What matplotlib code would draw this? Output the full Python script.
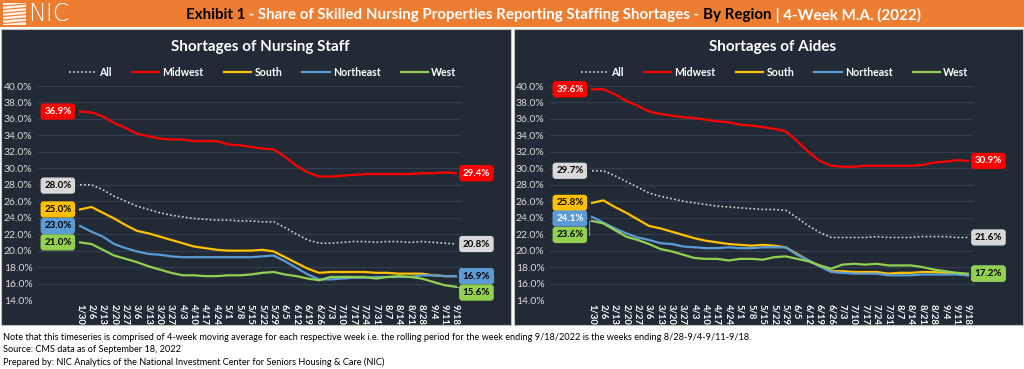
import matplotlib.pyplot as plt
from matplotlib.patches import Rectangle
from matplotlib.lines import Line2D

plt.rcParams['font.family'] = ['Lato', 'DejaVu Sans']

weeks = ["1/30", "2/6", "2/13", "2/20", "2/27", "3/6", "3/13", "3/20", "3/27", "4/3",
         "4/10", "4/17", "4/24", "5/1", "5/8", "5/15", "5/22", "5/29", "6/5", "6/12",
         "6/19", "6/26", "7/3", "7/10", "7/17", "7/24", "7/31", "8/7", "8/14", "8/21",
         "8/28", "9/4", "9/11", "9/18"]

# shortages of nursing staff (%)
nurse_all = [28.0, 28.0, 27.4, 26.6, 26.0, 25.4, 25.0, 24.6, 24.3, 24.1, 23.9, 23.8,
             23.7, 23.7, 23.6, 23.6, 23.5, 23.5, 22.8, 22.0, 21.3, 20.9, 20.9, 21.0,
             21.1, 21.1, 21.0, 21.1, 21.1, 21.0, 21.1, 21.0, 20.9, 20.8]
nurse_midwest = [36.9, 36.8, 36.3, 35.5, 34.9, 34.2, 33.9, 33.6, 33.5, 33.5, 33.3, 33.3,
                 33.3, 32.9, 32.8, 32.6, 32.4, 32.3, 31.4, 30.3, 29.5, 29.0, 29.0, 29.1,
                 29.2, 29.3, 29.3, 29.3, 29.3, 29.3, 29.4, 29.4, 29.5, 29.4]
nurse_south = [25.0, 25.3, 24.6, 23.9, 23.1, 22.4, 22.1, 21.7, 21.3, 20.9, 20.5, 20.3,
               20.1, 20.0, 20.0, 20.0, 20.1, 19.9, 19.2, 18.5, 17.8, 17.3, 17.4, 17.4,
               17.4, 17.4, 17.3, 17.3, 17.2, 17.2, 17.2, 17.0, 16.9, 16.9]
nurse_northeast = [23.0, 22.3, 21.7, 20.8, 20.3, 19.9, 19.6, 19.5, 19.3, 19.2, 19.2, 19.2,
                   19.2, 19.2, 19.2, 19.2, 19.3, 19.4, 18.7, 17.9, 17.1, 16.5, 16.5, 16.6,
                   16.7, 16.7, 16.8, 16.8, 16.8, 16.8, 17.0, 17.0, 16.9, 16.9]
nurse_west = [21.0, 20.8, 20.1, 19.4, 19.0, 18.6, 18.1, 17.7, 17.3, 17.0, 17.0, 16.9,
              16.9, 17.0, 17.0, 17.1, 17.3, 17.4, 17.1, 16.9, 16.6, 16.4, 16.8, 16.8,
              16.8, 16.8, 16.6, 16.8, 16.9, 16.8, 16.6, 16.2, 15.8, 15.6]

# shortages of aides (%)
aide_all = [29.7, 29.7, 29.1, 28.4, 27.7, 27.0, 26.6, 26.3, 26.0, 25.8, 25.6, 25.4,
            25.3, 25.2, 25.1, 25.0, 25.0, 24.9, 24.0, 23.0, 22.2, 21.6, 21.6, 21.6,
            21.6, 21.7, 21.6, 21.6, 21.6, 21.7, 21.7, 21.7, 21.6, 21.6]
aide_midwest = [39.6, 39.6, 39.0, 38.2, 37.6, 36.9, 36.6, 36.4, 36.2, 36.1, 35.9, 35.7,
                35.6, 35.3, 35.2, 35.0, 34.8, 34.5, 33.3, 32.0, 30.9, 30.3, 30.2, 30.2,
                30.3, 30.3, 30.3, 30.3, 30.3, 30.4, 30.7, 30.8, 31.0, 30.9]
aide_south = [25.8, 26.1, 25.3, 24.6, 23.8, 23.0, 22.7, 22.3, 21.9, 21.5, 21.2, 21.0,
              20.8, 20.7, 20.6, 20.7, 20.6, 20.4, 19.6, 18.8, 18.1, 17.5, 17.5, 17.4,
              17.4, 17.4, 17.2, 17.3, 17.3, 17.4, 17.4, 17.3, 17.2, 17.0]
aide_northeast = [24.1, 23.4, 22.7, 22.1, 21.6, 21.3, 20.9, 20.8, 20.5, 20.4, 20.3, 20.3,
                  20.4, 20.3, 20.3, 20.4, 20.4, 20.4, 19.5, 18.8, 18.1, 17.4, 17.3, 17.2,
                  17.2, 17.2, 17.0, 17.0, 17.0, 17.1, 17.1, 17.1, 17.1, 17.0]
aide_west = [23.6, 23.3, 22.5, 21.7, 21.3, 20.8, 20.2, 19.9, 19.5, 19.1, 19.0, 19.0,
             18.8, 19.0, 19.0, 18.9, 19.2, 19.3, 19.0, 18.7, 18.2, 17.8, 18.3, 18.4,
             18.3, 18.4, 18.2, 18.2, 18.2, 18.0, 17.7, 17.5, 17.3, 17.2]

regions = ["All", "Midwest", "South", "Northeast", "West"]
colors = {"All": "#D9D9D9", "Midwest": "#FF0000", "South": "#FFC000",
          "Northeast": "#5B9BD5", "West": "#92D050"}
text_colors = {"All": "black", "Midwest": "white", "South": "black",
               "Northeast": "black", "West": "black"}

BG = "#222A35"
W, H = 1024, 369

fig = plt.figure(figsize=(W / 100, H / 100), dpi=100, facecolor="white")


def px_rect(x0, y0, x1, y1, **kw):
    fig.patches.append(Rectangle((x0 / W, 1 - y1 / H), (x1 - x0) / W, (y1 - y0) / H,
                                 transform=fig.transFigure, zorder=-5, **kw))


# header bar + logo
px_rect(0, 0, W, 27, facecolor="#ED7D31", edgecolor="none")
px_rect(3, 3, 26, 25, facecolor="white", edgecolor="none", alpha=0.9)
for k in range(6):
    fig.lines.append(Line2D([3 / W, 26 / W], [1 - (6 + k * 3.5) / H, 1 - (4 + k * 3.5) / H],
                            transform=fig.transFigure, color="#ED7D31", lw=0.8))
fig.text(28 / W, 1 - 14 / H, "NIC", color="white", fontsize=17, fontweight="light",
         va="center", ha="left", fontfamily=["DejaVu Sans"])

title_parts = [("Exhibit 1", "black"),
               (" - Share of Skilled Nursing Properties Reporting Staffing Shortages - ", "white"),
               ("By Region", "black"), (" | 4-Week M.A. (2022)", "white")]
renderer = fig.canvas.get_renderer()
x_cursor = 186
for txt, col in title_parts:
    t = fig.text(x_cursor / W, 1 - 15 / H, txt, color=col, fontsize=10.9, fontweight="bold",
                 va="center", ha="left")
    x_cursor = t.get_window_extent(renderer).x1

# panels
px_rect(1, 29, 511, 325, facecolor=BG, edgecolor="#BFBFBF", lw=0.8)
px_rect(514, 29, 1023, 325, facecolor=BG, edgecolor="#BFBFBF", lw=0.8)


def draw_panel(x0, title, series, start_pos, end_pos, ne_start_color):
    ax = fig.add_axes([x0 / W, (H - 300) / H, 424 / W, 214 / H])
    ax.set_facecolor("none")
    xs = list(range(len(weeks)))
    for name in regions:
        if name == "All":
            ax.plot(xs, series[name], color=colors[name], lw=1.2, ls=(0, (1, 1.4)), label=name)
        else:
            ax.plot(xs, series[name], color=colors[name], lw=1.6, label=name)
    ax.set_xlim(-3.69, 33.53)
    ax.set_ylim(14, 40)
    ax.set_yticks(range(14, 41, 2))
    ax.set_yticklabels([f"{v:.1f}%" for v in range(14, 41, 2)], color="#D9D9D9", fontsize=7.5)
    ax.set_xticks(xs)
    ax.set_xticklabels(weeks, rotation=-90, rotation_mode="anchor", ha="left", va="center",
                       color="white", fontsize=6.8, fontweight="bold")
    ax.tick_params(length=0, pad=4)
    ax.tick_params(axis="x", pad=3)
    ax.grid(axis="y", color="#333F50", lw=0.8)
    ax.set_axisbelow(True)
    for s in ax.spines.values():
        s.set_visible(False)

    leg = ax.legend(loc="center", bbox_to_anchor=(0.53, 1.065), ncol=5, frameon=False,
                    fontsize=7.6, handlelength=2.6, columnspacing=1.9, handletextpad=0.3,
                    borderaxespad=0)
    for txt in leg.get_texts():
        txt.set_color("white")
        txt.set_fontweight("bold")

    ax.text(0.525, 1.18, title, transform=ax.transAxes, ha="center", va="center",
            color="white", fontsize=11, fontweight="bold")

    for name in regions:
        vals = series[name]
        for xi, (lx, ly), v in ((0, start_pos[name], vals[0]), (33, end_pos[name], vals[-1])):
            tc = text_colors[name]
            if name == "Northeast" and xi == 0:
                tc = ne_start_color
            ax.text(lx, ly, f"{v:.1f}%", ha="center", va="center", fontsize=7,
                    fontweight="bold", color=tc, clip_on=False,
                    bbox=dict(boxstyle="round,pad=0.3,rounding_size=0.25",
                              fc=colors[name], ec=colors[name]))
            if abs(ly - v) > 0.5:
                dx = 0.3 if xi else -0.3
                ax.plot([xi, xi + dx, xi + dx], [v, v, ly], color="#A6A6A6", lw=0.6,
                        clip_on=False)
    return ax


nurse = {"All": nurse_all, "Midwest": nurse_midwest, "South": nurse_south,
         "Northeast": nurse_northeast, "West": nurse_west}
aide = {"All": aide_all, "Midwest": aide_midwest, "South": aide_south,
        "Northeast": aide_northeast, "West": aide_west}

draw_panel(38, "Shortages of Nursing Staff", nurse,
           {"All": (-1.95, 27.9), "Midwest": (-1.95, 36.9), "South": (-1.95, 25.0),
            "Northeast": (-1.95, 23.0), "West": (-1.95, 21.0)},
           {"All": (34.8, 20.8), "Midwest": (34.8, 29.4), "South": (34.8, 16.9),
            "Northeast": (34.8, 16.9), "West": (34.8, 14.9)}, "black")
draw_panel(550, "Shortages of Aides", aide,
           {"All": (-1.95, 29.7), "Midwest": (-1.95, 39.6), "South": (-1.95, 25.8),
            "Northeast": (-1.95, 23.9), "West": (-1.95, 21.9)},
           {"All": (34.8, 21.6), "Midwest": (34.8, 30.9), "South": (34.8, 17.2),
            "Northeast": (34.8, 17.2), "West": (34.8, 17.2)}, "white")

notes = ["Note that this timeseries is comprised of 4-week moving average for each respective week i.e. the rolling period for the week ending 9/18/2022 is the weeks ending 8/28-9/4-9/11-9/18.",
         "Source: CMS data as of September 18, 2022",
         "Prepared by: NIC Analytics of the National Investment Center for Seniors Housing & Care (NIC)"]
for i, line in enumerate(notes):
    fig.text(3 / W, 1 - (337 + 12.5 * i) / H, line, fontsize=6.6, color="black",
             ha="left", va="center")

fig.savefig("out.png", dpi=100, facecolor="white")
